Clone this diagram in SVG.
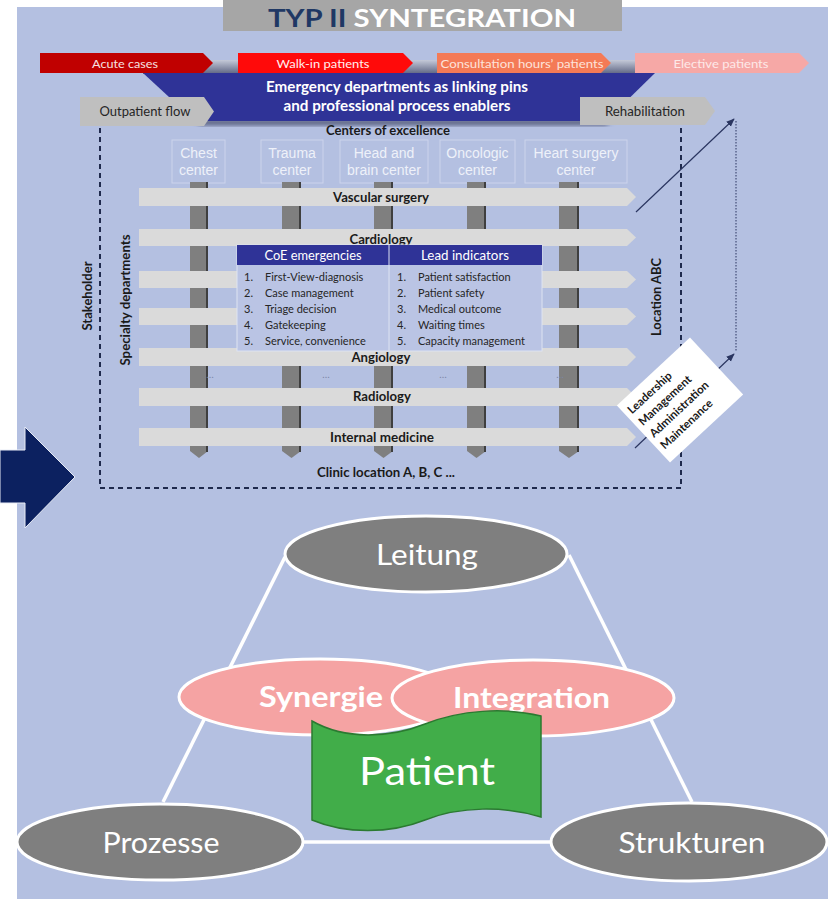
<svg xmlns="http://www.w3.org/2000/svg" width="828" height="899" viewBox="0 0 828 899">
<defs>
<style>
text{font-family:Lato,"Open Sans","Liberation Sans",sans-serif}
.b{font-weight:bold}
.mid{text-anchor:middle}
.top{font-size:12px}
.gray{fill:#bfbfbf}
.band{fill:#dadada}
.bar{fill:#7f7f7f}
.barEdge{stroke:#3f3f3f;stroke-width:2}
.coe{fill:none;stroke:#ccd3ec;stroke-width:1}
.coet{font-family:"Liberation Sans",Arial,sans-serif;font-size:14px;fill:#eef1f9;text-anchor:middle}
.bl{font-size:12.5px;font-weight:bold;fill:#1a1a1a;text-anchor:middle}
.tb{font-size:11px;fill:#262626}
.dots{font-size:10px;fill:#7d86a6;text-anchor:middle}
.dash{fill:none;stroke:#1f2a4d;stroke-width:2;stroke-dasharray:5 4}
.conn{fill:none;stroke:#2a3560;stroke-width:1.2}
.wl{stroke:#fff;stroke-width:3.5;fill:none}
.ge{fill:#7f7f7f;stroke:#fff;stroke-width:3}
.pe{fill:#f5a3a3;stroke:#fff;stroke-width:3}
.big{font-size:28px;fill:#fff;text-anchor:middle}
</style>
<marker id="ah" viewBox="0 0 10 10" refX="9" refY="5" markerWidth="7" markerHeight="7" orient="auto"><path d="M0,1 L10,5 L0,9 Z" fill="#2a3560"/></marker>
<linearGradient id="sh" x1="0" y1="0" x2="0" y2="1"><stop offset="0" stop-color="#c4c9d8"/><stop offset="1" stop-color="#5d6482"/></linearGradient>
<filter id="blur" x="-10%" y="-10%" width="120%" height="140%"><feGaussianBlur stdDeviation="2.5"/></filter>
</defs>

<rect x="0" y="0" width="828" height="899" fill="#fff"/>
<rect x="17" y="7" width="811" height="892" fill="#b4c0e1"/>

<g id="title">
<rect x="223" y="0" width="399" height="31" fill="#a6a6a6"/>
<text x="268" y="27" class="b" font-size="25" textLength="308" lengthAdjust="spacingAndGlyphs" font-weight="900"><tspan fill="#1f3864">TYP II </tspan><tspan fill="#fff">SYNTEGRATION</tspan></text>
</g>

<g id="big-arrow">
<polygon points="0,450 25,450 25,427 75,477 25,528 25,503 0,503" fill="#0c2160" stroke="#e8ecf6" stroke-width="1"/>
</g>

<g id="banner-shadow">
<rect x="143" y="60" width="510" height="14" fill="url(#sh)"/>
<polygon points="200,121 606,121 612,116 195,116" fill="#4a4f70" filter="url(#blur)" transform="translate(0,4)"/>
</g>

<g id="acute-cases">
<polygon points="40,53 203,53 213,63 203,73 40,73" fill="#c00000"/>
<text x="125" y="67.5" class="top mid" fill="#f6e0e0" textLength="66" lengthAdjust="spacingAndGlyphs">Acute cases</text>
</g>
<g id="walk-in">
<polygon points="238,53 403,53 413,63 403,73 238,73" fill="#ff0a0a"/>
<text x="323" y="67.5" class="top mid" fill="#fff0f0" textLength="93" lengthAdjust="spacingAndGlyphs">Walk-in patients</text>
</g>
<g id="consultation">
<polygon points="437,53 601,53 611,63 601,73 437,73" fill="#f47a56"/>
<text x="522" y="67.5" class="top mid" fill="#fde3da" textLength="163" lengthAdjust="spacingAndGlyphs">Consultation hours’ patients</text>
</g>
<g id="elective">
<polygon points="635,53 799,53 809,63 799,73 635,73" fill="#f6a8a6"/>
<text x="721" y="67.5" class="top mid" fill="#fde9e8" textLength="95" lengthAdjust="spacingAndGlyphs">Elective patients</text>
</g>

<g id="emergency-banner">
<polygon points="143,73 655,73 606,121 195,121" fill="#2f3397"/>
<text x="397" y="92" class="b mid" font-size="14.5" fill="#fff" textLength="262" lengthAdjust="spacingAndGlyphs">Emergency departments as linking pins</text>
<text x="397" y="111" class="b mid" font-size="14.5" fill="#fff" textLength="227" lengthAdjust="spacingAndGlyphs">and professional process enablers</text>
</g>

<g id="outpatient-flow">
<polygon points="80,97 204,97 214,111.5 204,126 80,126" class="gray"/>
<text x="145" y="116" class="mid" font-size="12.5" fill="#262626" textLength="91" lengthAdjust="spacingAndGlyphs">Outpatient flow</text>
</g>
<g id="rehabilitation">
<polygon points="580,97 705,97 715,111 705,125 580,125" class="gray"/>
<text x="645" y="116" class="mid" font-size="12.5" fill="#262626" textLength="80" lengthAdjust="spacingAndGlyphs">Rehabilitation</text>
</g>

<g id="centers-label">
<text x="388" y="135" class="bl" textLength="124" lengthAdjust="spacingAndGlyphs">Centers of excellence</text>
</g>

<g id="stakeholder-boundary">
<path d="M100,128 V488 H681 V128" class="dash"/>
</g>

<g id="chest-center">
<rect x="172" y="140" width="53" height="43" class="coe"/>
<text x="198.5" y="158" class="coet">Chest</text>
<text x="198.5" y="175" class="coet">center</text>
<path d="M190,182 H208 V451 L199,458 L190,451 Z" class="bar"/><line x1="207" y1="182" x2="207" y2="452" class="barEdge"/>
</g>
<g id="trauma-center">
<rect x="261" y="140" width="62" height="43" class="coe"/>
<text x="292" y="158" class="coet">Trauma</text>
<text x="292" y="175" class="coet">center</text>
<path d="M282,182 H301 V451 L291.5,458 L282,451 Z" class="bar"/><line x1="300" y1="182" x2="300" y2="452" class="barEdge"/>
</g>
<g id="head-brain-center">
<rect x="340" y="140" width="88" height="43" class="coe"/>
<text x="384" y="158" class="coet">Head and</text>
<text x="384" y="175" class="coet">brain center</text>
<path d="M374,182 H393 V451 L383.5,458 L374,451 Z" class="bar"/><line x1="392" y1="182" x2="392" y2="452" class="barEdge"/>
</g>
<g id="oncologic-center">
<rect x="440" y="140" width="75" height="43" class="coe"/>
<text x="477.5" y="158" class="coet">Oncologic</text>
<text x="477.5" y="175" class="coet">center</text>
<path d="M467,182 H486 V451 L476.5,458 L467,451 Z" class="bar"/><line x1="485" y1="182" x2="485" y2="452" class="barEdge"/>
</g>
<g id="heart-surgery-center">
<rect x="525" y="140" width="102" height="43" class="coe"/>
<text x="576" y="158" class="coet">Heart surgery</text>
<text x="576" y="175" class="coet">center</text>
<path d="M559,182 H579 V451 L569,458 L559,451 Z" class="bar"/><line x1="578" y1="182" x2="578" y2="452" class="barEdge"/>
</g>

<g id="vascular-surgery">
<polygon points="139,188 627,188 636,197 627,206 139,206" class="band"/>
<text x="381" y="202" class="bl" textLength="96" lengthAdjust="spacingAndGlyphs">Vascular surgery</text>
</g>
<g id="cardiology">
<polygon points="139,229 627,229 636,237.5 627,246 139,246" class="band"/>
<text x="381" y="244" class="bl" textLength="63" lengthAdjust="spacingAndGlyphs">Cardiology</text>
</g>
<g id="department-3">
<polygon points="139,271 627,271 636,279.5 627,288 139,288" class="band"/>
</g>
<g id="department-4">
<polygon points="139,308 627,308 636,316.5 627,325 139,325" class="band"/>
</g>
<g id="angiology">
<polygon points="139,348 627,348 636,357 627,366 139,366" class="band"/>
<text x="381" y="362" class="bl" textLength="59" lengthAdjust="spacingAndGlyphs">Angiology</text>
</g>
<g id="more-dots">
<text x="210" y="378" class="dots">…</text>
<text x="326" y="378" class="dots">…</text>
<text x="443" y="378" class="dots">…</text>
<text x="560" y="378" class="dots">…</text>
</g>
<g id="radiology">
<polygon points="139,388 627,388 636,397 627,406 139,406" class="band"/>
<text x="382" y="401" class="bl" textLength="58" lengthAdjust="spacingAndGlyphs">Radiology</text>
</g>
<g id="internal-medicine">
<polygon points="139,428 627,428 636,437 627,446 139,446" class="band"/>
<text x="382" y="442" class="bl" textLength="104" lengthAdjust="spacingAndGlyphs">Internal medicine</text>
</g>

<g id="coe-table">
<rect x="237" y="245" width="305" height="106" fill="#bac4e4" stroke="#dde3f2" stroke-width="1"/>
<rect x="237" y="245" width="305" height="20" fill="#2f3397"/>
<line x1="389" y1="245" x2="389" y2="351" stroke="#dde3f2" stroke-width="1"/>
<text x="313" y="259.5" class="mid" font-size="12.5" fill="#fff" textLength="97" lengthAdjust="spacingAndGlyphs">CoE emergencies</text>
<text x="465" y="259.5" class="mid" font-size="12.5" fill="#fff" textLength="88" lengthAdjust="spacingAndGlyphs">Lead indicators</text>
<g class="tb">
<text x="244" y="281" class="tb">1.</text><text x="265" y="281" class="tb">First-View-diagnosis</text>
<text x="244" y="297" class="tb">2.</text><text x="265" y="297" class="tb">Case management</text>
<text x="244" y="313" class="tb">3.</text><text x="265" y="313" class="tb">Triage decision</text>
<text x="244" y="329" class="tb">4.</text><text x="265" y="329" class="tb">Gatekeeping</text>
<text x="244" y="345" class="tb">5.</text><text x="265" y="345" class="tb">Service, convenience</text>
<text x="397" y="281" class="tb">1.</text><text x="418" y="281" class="tb">Patient satisfaction</text>
<text x="397" y="297" class="tb">2.</text><text x="418" y="297" class="tb">Patient safety</text>
<text x="397" y="313" class="tb">3.</text><text x="418" y="313" class="tb">Medical outcome</text>
<text x="397" y="329" class="tb">4.</text><text x="418" y="329" class="tb">Waiting times</text>
<text x="397" y="345" class="tb">5.</text><text x="418" y="345" class="tb">Capacity management</text>
</g>
</g>

<g id="side-labels">
<text transform="translate(92,296) rotate(-90)" class="bl" font-size="12" textLength="69" lengthAdjust="spacingAndGlyphs">Stakeholder</text>
<text transform="translate(130,300) rotate(-90)" class="bl" font-size="12" textLength="131" lengthAdjust="spacingAndGlyphs">Specialty departments</text>
<text transform="translate(661,297) rotate(-90)" class="bl" font-size="12" textLength="78" lengthAdjust="spacingAndGlyphs">Location  ABC</text>
<text x="386" y="477" class="bl" textLength="138" lengthAdjust="spacingAndGlyphs">Clinic location A, B, C ...</text>
</g>

<g id="connectors">
<line x1="636" y1="212" x2="734" y2="119" class="conn" marker-end="url(#ah)"/>
<line x1="736" y1="121" x2="736" y2="352" stroke="#2a3560" stroke-width="1" stroke-dasharray="1.5 1.5"/>
<line x1="635" y1="448" x2="734" y2="354" class="conn" marker-end="url(#ah)"/>
<line x1="285" y1="557" x2="163" y2="802" class="wl"/>
<line x1="569" y1="555" x2="692" y2="802" class="wl"/>
<line x1="303" y1="842" x2="551" y2="842" class="wl"/>
</g>

<g id="management-box" transform="translate(680,400) rotate(-43)">
<rect x="-50" y="-39" width="100" height="78" fill="#fff"/>
<text x="-45" y="-22" class="b" font-size="11.5" fill="#1a1a1a">Leadership</text>
<text x="-45" y="-6" class="b" font-size="11.5" fill="#1a1a1a">Management</text>
<text x="-45" y="10" class="b" font-size="11.5" fill="#1a1a1a">Administration</text>
<text x="-45" y="26" class="b" font-size="11.5" fill="#1a1a1a">Maintenance</text>
</g>

<g id="leitung">
<ellipse cx="426" cy="554" rx="141" ry="38" class="ge"/>
<text x="427" y="565" class="big" textLength="102" lengthAdjust="spacingAndGlyphs">Leitung</text>
</g>
<g id="prozesse">
<ellipse cx="160" cy="842" rx="143" ry="38" class="ge"/>
<text x="161" y="853" class="big" textLength="117" lengthAdjust="spacingAndGlyphs">Prozesse</text>
</g>
<g id="strukturen">
<ellipse cx="689" cy="842" rx="138" ry="39" class="ge"/>
<text x="692" y="853" class="big" textLength="147" lengthAdjust="spacingAndGlyphs">Strukturen</text>
</g>
<g id="synergie">
<ellipse cx="320" cy="697" rx="141" ry="38" class="pe"/>
<text x="321" y="707" class="big b" textLength="124" lengthAdjust="spacingAndGlyphs">Synergie</text>
</g>
<g id="integration">
<ellipse cx="533" cy="698" rx="141" ry="38" class="pe"/>
<text x="531.5" y="708" class="big b" textLength="157" lengthAdjust="spacingAndGlyphs">Integration</text>
</g>
<g id="patient">
<path d="M312,721 C345,740 390,738 425,724 C460,710 505,707 541,716 L541,817 C505,806 460,806 425,820 C390,834 345,834 312,820 Z" fill="#41ad49" stroke="#2b7a31" stroke-width="1.5"/>
<text x="427" y="785" class="mid" font-size="39" fill="#fff" textLength="136" lengthAdjust="spacingAndGlyphs">Patient</text>
</g>
</svg>
